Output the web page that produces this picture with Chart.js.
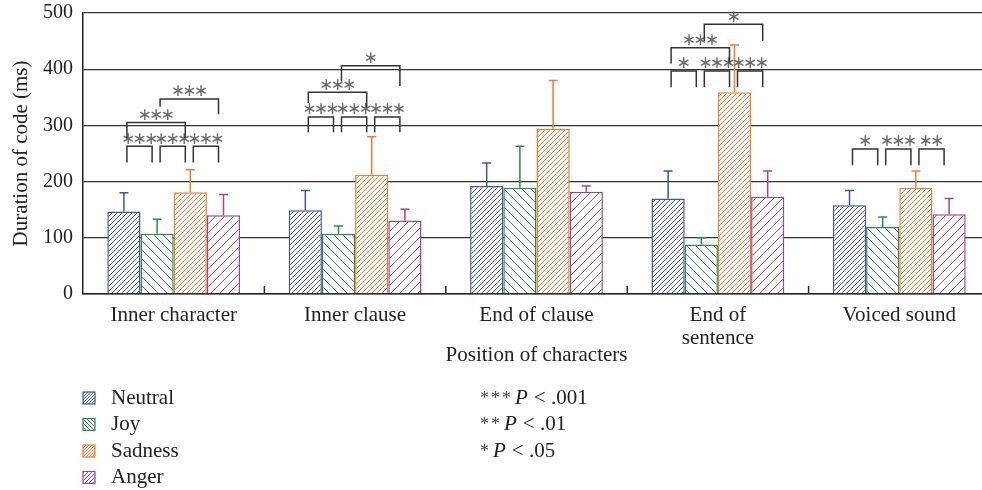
<!DOCTYPE html>
<html>
<head>
<meta charset="utf-8">
<script src="https://cdn.jsdelivr.net/npm/chart.js@4.4.1/dist/chart.umd.min.js"></script>
<style>
  html, body { margin: 0; padding: 0; background: #fff; overflow: hidden; }
  #wrap { width: 990px; height: 490px; }
</style>
</head>
<body>
<div id="wrap"><canvas id="chart" width="990" height="490"></canvas></div>
<script>
// ---- data ----
const categories = ["Inner character", "Inner clause", "End of clause", ["End of", "sentence"], "Voiced sound"];
const seriesNames = ["Neutral", "Joy", "Sadness", "Anger"];

const neutralMs = [147, 149, 192, 170, 158];
const joyMs     = [107, 107, 189, 88, 119];
const sadnessMs = [181, 212, 294, 359, 189];
const angerMs   = [140, 131, 182, 173, 142];

// upper error (ms above the bar)
const neutralErr = [33, 35, 41, 49, 26];
const joyErr     = [26, 14, 74, 12, 18];
const sadnessErr = [40, 68, 86, 84, 30];
const angerErr   = [37, 20, 10, 46, 28];

const yTicks = [0, 100, 200, 300, 400, 500];

// significance brackets: [category, barFrom, barTo, top (ms), leg end from, leg end to, label]
const sigBrackets = [
  [0, 0, 1, 263, 234, 234, "***"],
  [0, 1, 2, 263, 234, 234, "***"],
  [0, 2, 3, 263, 234, 234, "***"],
  [0, 0, 2, 305, 277, 277, "***"],
  [0, 1, 3, 347, 333, 320, "***"],
  [1, 0, 1, 315, 288, 288, "***"],
  [1, 1, 2, 315, 288, 288, "***"],
  [1, 2, 3, 315, 288, 288, "***"],
  [1, 0, 2, 359, 340, 332, "***"],
  [1, 1, 3, 406, 378, 370, "*"],
  [3, 0, 1, 397, 368, 368, "*"],
  [3, 1, 2, 397, 368, 368, "***"],
  [3, 2, 3, 397, 368, 368, "***"],
  [3, 0, 2, 438, 410, 410, "***"],
  [3, 1, 3, 480, 450, 450, "*"],
  [4, 0, 1, 258, 229, 229, "*"],
  [4, 1, 2, 258, 229, 229, "***"],
  [4, 2, 3, 258, 229, 229, "**"]
];

const pStars = ["***", "**", "*"];
const pTexts = ["< .001", "< .01", "< .05"];

// ---- styling ----
const SERIF = '"Liberation Serif", "DejaVu Serif", serif';
const colors = ["#3f56a6", "#2a8a4c", "#f27a33", "#a24883"];
const hatchGap = [5, 9, 5, 9];
const legendGap = [3, 4, 3, 4];
const hatchDir = ["/", "\\", "/", "/"];

function makeHatch(color, s, dir){
  const c = document.createElement("canvas");
  c.width = s; c.height = s;
  const g = c.getContext("2d");
  g.fillStyle = "#fff";
  g.fillRect(0, 0, s, s);
  g.strokeStyle = color;
  g.lineWidth = 1;
  g.beginPath();
  if (dir === "/") {
    for (const k of [0, s, 2 * s]) { g.moveTo(k + 1, -1); g.lineTo(-1, k + 1); }
  } else {
    for (const k of [-s, 0, s]) { g.moveTo(k - 1, -1); g.lineTo(k + s + 1, s + 1); }
  }
  g.stroke();
  return g.createPattern(c, "repeat");
}

const patterns = colors.map((c, i) => makeHatch(c, hatchGap[i], hatchDir[i]));
const legendPatterns = colors.map((c, i) => makeHatch(c, legendGap[i], hatchDir[i]));
const values = [neutralMs, joyMs, sadnessMs, angerMs];
const errors = [neutralErr, joyErr, sadnessErr, angerErr];

/** barres d'error, claudàtors, marques i llegenda */
const extras = {
  id: "extras",
  afterDatasetsDraw(chart){
    const ctx = chart.ctx;
    const y = chart.scales.y;
    const x = chart.scales.x;
    const area = chart.chartArea;

    // tick marks between categories
    ctx.save();
    ctx.strokeStyle = "#222";
    ctx.lineWidth = 1.5;
    for (let i = 0; i < categories.length - 1; i++) {
      const bx = (x.getPixelForValue(i) + x.getPixelForValue(i + 1)) / 2;
      ctx.beginPath();
      ctx.moveTo(bx, area.bottom);
      ctx.lineTo(bx, area.bottom - 8);
      ctx.stroke();
    }
    ctx.restore();

    // error bars (upper only)
    ctx.save();
    ctx.lineWidth = 1.5;
    values.forEach((vals, d) => {
      const meta = chart.getDatasetMeta(d);
      ctx.strokeStyle = colors[d];
      meta.data.forEach((bar, i) => {
        const top = y.getPixelForValue(vals[i] + errors[d][i]);
        ctx.beginPath();
        ctx.moveTo(bar.x, bar.y);
        ctx.lineTo(bar.x, top);
        ctx.moveTo(bar.x - 4.5, top);
        ctx.lineTo(bar.x + 4.5, top);
        ctx.stroke();
      });
    });
    ctx.restore();

    // significance brackets
    ctx.save();
    ctx.lineWidth = 1.5;
    ctx.strokeStyle = "#333";
    ctx.fillStyle = "#6a6a6a";
    ctx.font = '17px "DejaVu Sans", sans-serif';
    ctx.textAlign = "center";
    ctx.textBaseline = "middle";
    sigBrackets.forEach(([cat, a, b, top, legA, legB, label]) => {
      const xa = chart.getDatasetMeta(a).data[cat].x + 3;
      const xb = chart.getDatasetMeta(b).data[cat].x - 5;
      const yt = y.getPixelForValue(top);
      ctx.beginPath();
      ctx.moveTo(xa, y.getPixelForValue(legA));
      ctx.lineTo(xa, yt);
      ctx.lineTo(xb, yt);
      ctx.lineTo(xb, y.getPixelForValue(legB));
      ctx.stroke();
      const mid = (xa + xb) / 2;
      const n = label.length;
      for (let k = 0; k < n; k++) {
        ctx.fillText("\u2217", mid + (k - (n - 1) / 2) * 11.5, yt - 7);
      }
    });
    ctx.restore();
  },
  afterDraw(chart){
    const ctx = chart.ctx;
    const rows = [398, 424.5, 451, 477.5];
    ctx.save();
    ctx.textBaseline = "middle";
    // legend
    seriesNames.forEach((name, i) => {
      ctx.fillStyle = legendPatterns[i];
      ctx.fillRect(83, rows[i] - 6, 12, 12);
      ctx.strokeStyle = colors[i];
      ctx.lineWidth = 1.2;
      ctx.strokeRect(83, rows[i] - 6, 12, 12);
      ctx.fillStyle = "#222";
      ctx.font = "21px " + SERIF;
      ctx.fillText(name, 111, rows[i]);
    });
    // p notes
    pStars.forEach((stars, i) => {
      ctx.fillStyle = "#444";
      ctx.font = "18px " + SERIF;
      for (let k = 0; k < stars.length; k++) {
        ctx.fillText("*", 480 + k * 11, rows[i] + 1);
      }
      let px = 480 + stars.length * 11 + 2;
      ctx.fillStyle = "#222";
      ctx.font = "italic 21px " + SERIF;
      ctx.fillText("P", px, rows[i]);
      px += ctx.measureText("P").width + 6;
      ctx.font = "21px " + SERIF;
      ctx.fillText(pTexts[i], px, rows[i]);
    });
    ctx.restore();
  }
};

new Chart(document.getElementById("chart"), {
  type: "bar",
  data: {
    labels: categories,
    datasets: seriesNames.map((name, i) => ({
      label: name,
      data: values[i],
      backgroundColor: patterns[i],
      borderColor: colors[i],
      borderWidth: 1.5,
      borderSkipped: "bottom",
      categoryPercentage: 0.732,
      barPercentage: 1.0
    }))
  },
  options: {
    responsive: false,
    animation: false,
    devicePixelRatio: 1,
    layout: { padding: { top: 13, right: 0, bottom: 122, left: 0 } },
    plugins: {
      legend: { display: false },
      tooltip: { enabled: false }
    },
    scales: {
      x: {
        grid: { display: false },
        border: { display: true, color: "#222", width: 1.5 },
        ticks: { color: "#222", font: { family: SERIF, size: 21, lineHeight: 1.1 }, padding: 2, maxRotation: 0, autoSkip: false },
        title: { display: true, text: "Position of characters", color: "#222",
                 font: { family: SERIF, size: 21 }, padding: { top: 0, bottom: 0 } },
        afterFit(scale){ scale.height = 74; scale.paddingLeft = 0; scale.paddingRight = 0; }
      },
      y: {
        min: 0, max: 500,
        afterBuildTicks(scale){ scale.ticks = yTicks.map(v => ({ value: v })); },
        grid: { color: "#333", lineWidth: 1.3, drawTicks: false },
        border: { display: true, color: "#222", width: 1.5 },
        ticks: { color: "#222", font: { family: SERIF, size: 20 }, padding: 10 },
        title: { display: true, text: "Duration of code (ms)", color: "#222",
                 font: { family: SERIF, size: 21 }, padding: { top: 9, bottom: 0 } },
        afterFit(scale){ scale.width = 83; scale.paddingTop = 0; scale.paddingBottom = 0; }
      }
    }
  },
  plugins: [extras]
});
</script>
</body>
</html>
